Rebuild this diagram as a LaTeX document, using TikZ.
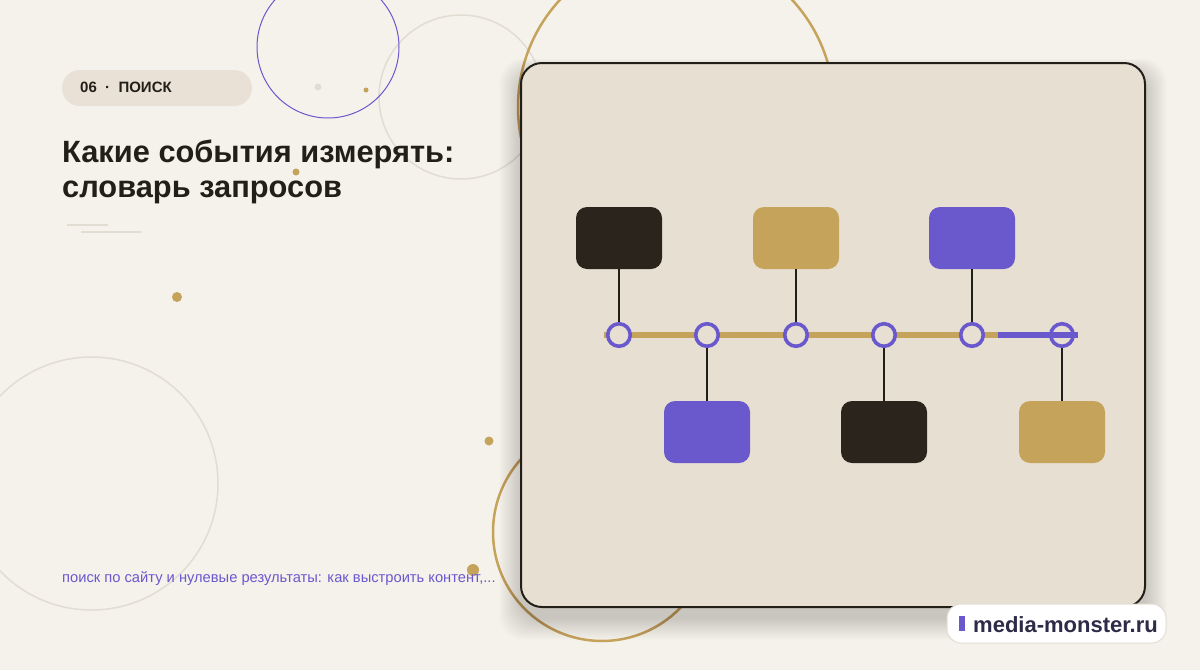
\documentclass[tikz,border=0pt]{standalone}
\usepackage{fontspec}
\setmainfont{Liberation Sans}
\definecolor{bg}{HTML}{F5F2EC}
\definecolor{panelc}{HTML}{E8DFD3}
\definecolor{goldc}{HTML}{C6A35B}
\definecolor{purp}{HTML}{6A58CD}
\definecolor{darkc}{HTML}{2A241C}
\definecolor{inkc}{HTML}{221E18}
\definecolor{pillc}{HTML}{E9E1D5}
\definecolor{faint}{HTML}{E2DDD3}
\definecolor{logoink}{HTML}{2D2B48}
\tikzset{
  evbox/.style={rounded corners=11pt, minimum width=86pt, minimum height=62pt, inner sep=0pt, draw=none},
  tnode/.style={circle, draw=purp, line width=3.6pt, fill=panelc, minimum size=22.5pt, inner sep=0pt},
  conn/.style={draw=inkc, line width=2.8pt},
  deco/.style={line width=1.5pt},
}
\begin{document}
\begin{tikzpicture}[x=1pt,y=-1pt]
\useasboundingbox (0,0) rectangle (1200,670);
\fill[bg] (0,0) rectangle (1200,670);
% decorative circles
\draw[faint, deco] (91.5,483.5) circle (126.5pt);
\draw[faint, deco] (461,97) circle (82pt);
\draw[purp, line width=1pt] (328,47) circle (71pt);
\draw[goldc, line width=2.5pt] (676,107) circle (158pt);
\draw[goldc, line width=2.5pt] (602,532) circle (109pt);
% dots
\fill[goldc] (177,297) circle (5pt);
\fill[goldc] (296,172) circle (3.5pt);
\fill[goldc] (366,90) circle (2.5pt);
\fill[faint] (318,87) circle (3.5pt);
\fill[goldc] (489,441) circle (4.5pt);
\fill[goldc] (473,570) circle (6pt);
% thin lines under title
\draw[faint, deco] (67,225) -- (108,225);
\draw[faint, deco] (81,232) -- (141,232);
% pill
\node[fill=pillc, rounded corners=18pt, minimum width=190pt, minimum height=36pt, inner sep=0pt] (pill) at (157,88) {};
\node[anchor=west, inner sep=0pt, text=inkc, font=\fontsize{15}{17}\selectfont\bfseries] (pilltext) at (80,87) {06~~·~~ПОИСК};
% title
\node[anchor=base west, inner sep=0pt, text=inkc, font=\fontsize{30.8}{35}\selectfont\bfseries] (title1) at (62,162) {Какие события измерять:};
\node[anchor=base west, inner sep=0pt, text=inkc, font=\fontsize{30.8}{35}\selectfont\bfseries] (title2) at (62,197) {словарь запросов};
% shadow
\foreach \e in {1,2,...,22}{
  \fill[black, opacity=0.006, rounded corners=24pt] (521-\e,72-\e*0.6) rectangle (1145+\e,618+\e);
}
% panel
\draw[fill=panelc, draw=inkc, line width=2pt, rounded corners=21pt] (521,63) rectangle (1145,607);
% timeline
\coordinate (ls) at (604,335);
\coordinate (lm) at (998,335);
\coordinate (le) at (1078,335);
\draw[goldc, line width=5.5pt] (ls) -- (lm);
\node[tnode] (c1) at (619,335) {};
\node[tnode] (c2) at (707,335) {};
\node[tnode] (c3) at (796,335) {};
\node[tnode] (c4) at (884,335) {};
\node[tnode] (c5) at (972,335) {};
\node[tnode] (c6) at (1062,335) {};
\draw[purp, line width=6pt] (lm) -- (le);
% boxes
\node[evbox, fill=darkc] (t1) at (619,238) {};
\node[evbox, fill=goldc] (t2) at (796,238) {};
\node[evbox, fill=purp] (t3) at (972,238) {};
\node[evbox, fill=purp] (b1) at (707,432) {};
\node[evbox, fill=darkc] (b2) at (884,432) {};
\node[evbox, fill=goldc] (b3) at (1062,432) {};
% connectors
\draw[conn] (t1.south) -- (c1.north);
\draw[conn] (t2.south) -- (c3.north);
\draw[conn] (t3.south) -- (c5.north);
\draw[conn] (c2.south) -- (b1.north);
\draw[conn] (c4.south) -- (b2.north);
\draw[conn] (c6.south) -- (b3.north);
% bottom text
\node[anchor=base west, inner sep=0pt, text=purp, font=\fontsize{14.7}{17}\selectfont] (sub) at (62,582) {поиск по сайту и нулевые результаты: как выстроить контент,...};
% logo
\node[fill=white, draw=faint, line width=1pt, rounded corners=14pt, minimum width=219pt, minimum height=39pt, inner sep=0pt] (logo) at (1056.5,623.5) {};
\fill[purp] (959,616) rectangle (965,631);
\node[anchor=west, inner sep=0pt, text=logoink, font=\fontsize{22}{26}\selectfont\bfseries] (logotext) at (973,625) {media-monster.ru};
\end{tikzpicture}
\end{document}
